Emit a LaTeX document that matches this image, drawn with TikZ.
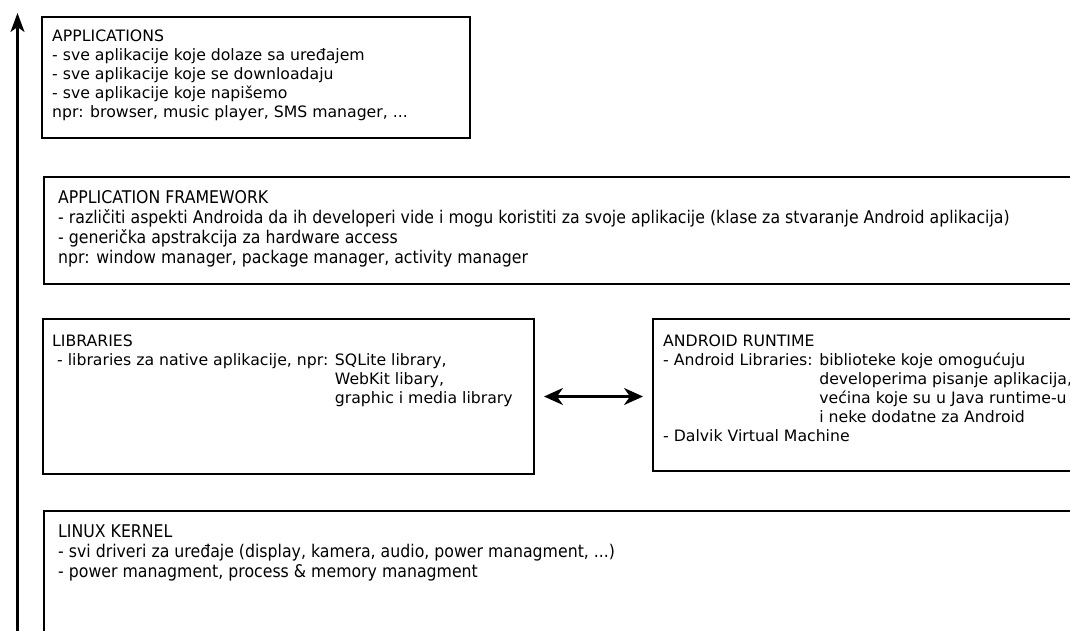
\documentclass[tikz,border=0pt]{standalone}
\usepackage{fontspec}
\setmainfont{DejaVu Sans}
\newfontfamily\condfont{DejaVu Sans}[FakeStretch=0.9]
\usetikzlibrary{arrows.meta}
\newcommand{\rtuvuci}{\hphantom{- Android Libraries: }}
\newcommand{\libuvuci}{\hphantom{- libraries za native aplikacije, npr: }}

\begin{document}
\begin{tikzpicture}[x=1pt,y=-1pt,
  sloj/.style={draw, line width=2pt, anchor=north west, inner sep=0pt},
  opis/.style={anchor=north west, align=left, inner sep=0pt, font=\fontsize{15.7}{19}\selectfont},
  uzopis/.style={opis, font=\condfont\fontsize{17.5}{20}\selectfont},
  vrh/.style={-{Stealth[length=19pt,width=14pt,inset=5pt]}, line width=2.2pt},
  dvovrh/.style={{Stealth[length=19pt,width=17pt,inset=6pt]}-{Stealth[length=19pt,width=17pt,inset=6pt]}, line width=2.2pt}]

\useasboundingbox (0,0) rectangle (1070,631);

% slojevi
\node[sloj, minimum width=428pt, minimum height=121pt] (apps) at (41,16) {};
\node[sloj, minimum width=1040pt, minimum height=107pt] (fw) at (43,176) {};
\node[sloj, minimum width=491pt, minimum height=155pt] (libs) at (42,318) {};
\node[sloj, minimum width=430pt, minimum height=152pt] (rt) at (652,318) {};
\node[sloj, minimum width=1040pt, minimum height=140pt] (kern) at (43,510) {};

% tekstovi
\node[opis] (appstxt) at (52,29.5) {APPLICATIONS\\
- sve aplikacije koje dolaze sa uređajem\\
- sve aplikacije koje se downloadaju\\
- sve aplikacije koje napišemo\\
npr: browser, music player, SMS manager, ...};

\node[uzopis] (fwtxt) at (58,190.2) {APPLICATION FRAMEWORK\\
- različiti aspekti Androida da ih developeri vide i mogu koristiti za svoje aplikacije (klase za stvaranje Android aplikacija)\\
- generička apstrakcija za hardware access\\
npr: window manager, package manager, activity manager};

\node[opis] (libstxt) at (52,334.5) {LIBRARIES\\
\hspace{5pt}- libraries za native aplikacije, npr: SQLite library,\\
\hspace{5pt}\libuvuci WebKit libary,\\
\hspace{5pt}\libuvuci graphic i media library};

\node[opis] (rttxt) at (663,334.5) {ANDROID RUNTIME\\
- Android Libraries: biblioteke koje omogućuju\\
\rtuvuci developerima pisanje aplikacija,\\
\rtuvuci većina koje su u Java runtime-u\\
\rtuvuci i neke dodatne za Android\\
- Dalvik Virtual Machine};

\node[uzopis] (kerntxt) at (58,524.2) {LINUX KERNEL\\
- svi driveri za uređaje (display, kamera, audio, power managment, ...)\\
- power managment, process \& memory managment};

% strelice
\draw[dvovrh] ([xshift=9pt]libs.east) -- ([xshift=-9pt]libs.east -| rt.west);
\coordinate (dno) at (17.5,640);
\coordinate (gore) at (17.5,13);
\draw[vrh] (dno) -- (gore);

\end{tikzpicture}
\end{document}
